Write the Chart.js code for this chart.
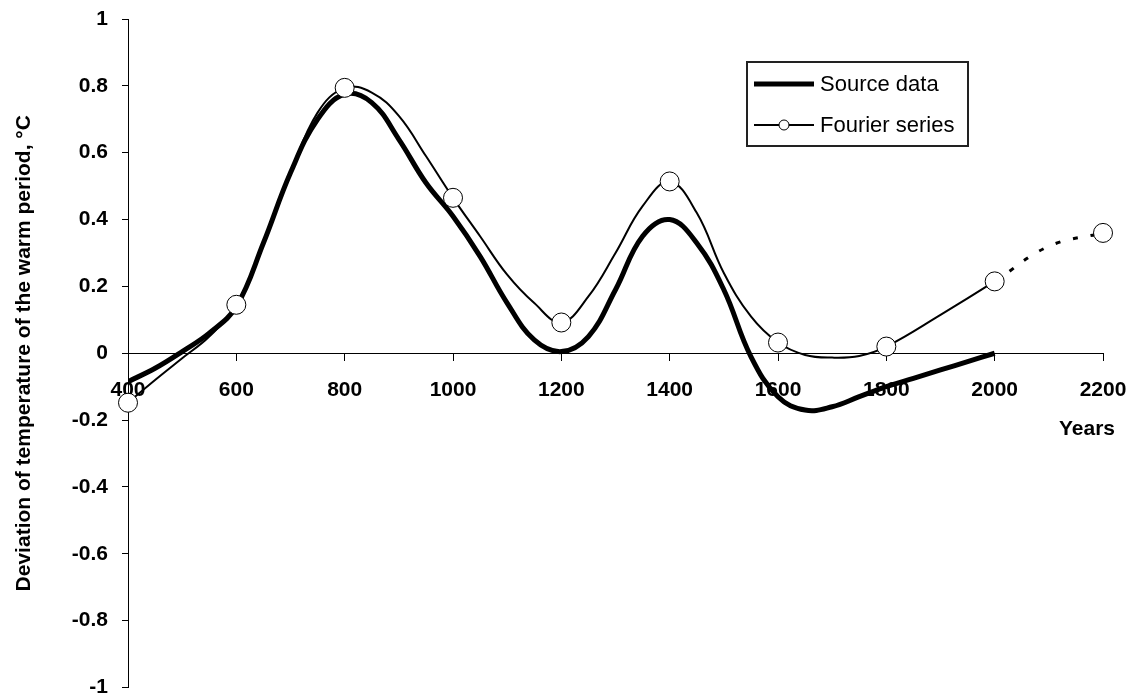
<!DOCTYPE html>
<html>
<head>
<meta charset="utf-8">
<script src="https://cdn.jsdelivr.net/npm/chart.js@4/dist/chart.umd.min.js"></script>
<style>
html, body { margin: 0; padding: 0; background: #fff; }
#wrap { width: 1140px; height: 698px; position: relative; }
</style>
</head>
<body>
<div id="wrap"><canvas id="tempChart"></canvas></div>
<script>
// Source data (thick line) - years and deviation, °C
const sourceYears = [400, 450, 500, 550, 600, 650, 700, 750, 800, 850, 900, 950, 1000, 1050, 1100, 1150, 1200, 1250, 1300, 1350, 1400, 1450, 1500, 1550, 1600, 1650, 1700, 1750, 1800, 1850, 1900, 1950, 2000];
const sourceValues = [-0.085, -0.045, 0.005, 0.06, 0.14, 0.33, 0.54, 0.70, 0.775, 0.75, 0.64, 0.51, 0.41, 0.29, 0.15, 0.04, 0.005, 0.05, 0.19, 0.35, 0.40, 0.33, 0.19, -0.01, -0.13, -0.17, -0.16, -0.13, -0.10, -0.075, -0.05, -0.025, 0.0];

// Fourier series (thin line, circles every 200 years)
const fourierYears = [400, 450, 500, 550, 600, 650, 700, 750, 800, 850, 900, 950, 1000, 1050, 1100, 1150, 1200, 1250, 1300, 1350, 1400, 1450, 1500, 1550, 1600, 1650, 1700, 1750, 1800, 1900, 2000, 2100, 2200];
const fourierValues = [-0.148, -0.08, -0.015, 0.05, 0.145, 0.33, 0.54, 0.72, 0.794, 0.78, 0.71, 0.59, 0.465, 0.35, 0.235, 0.15, 0.092, 0.17, 0.30, 0.44, 0.514, 0.42, 0.24, 0.11, 0.032, -0.005, -0.013, -0.008, 0.02, 0.115, 0.215, 0.32, 0.36];

const markerStep = 200;     // circles on the Fourier line
const forecastFrom = 2000;  // dashed part after this year

const seriesLabels = ['Source data', 'Fourier series'];
const yTitle = 'Deviation of temperature of the warm period, °C';
const xTitle = 'Years';

const FONT = '"Liberation Sans", Arial, sans-serif';
Chart.defaults.font.family = FONT;
Chart.defaults.color = '#000';

const toPoints = (xs, ys) => xs.map((x, i) => ({ x: x, y: ys[i] }));

// legend box + "Years" label
const extras = {
    id: 'extras',
    afterDraw(chart) {
        const c = chart.ctx;
        const xs = chart.scales.x, ys = chart.scales.y;
        c.save();
        c.fillStyle = '#000';
        c.font = 'bold 21px ' + FONT;
        c.textAlign = 'right';
        c.textBaseline = 'alphabetic';
        c.fillText(xTitle, xs.right + 12, ys.getPixelForValue(0) + 82);

        // legend
        const bx = 747, by = 62, bw = 221, bh = 84;
        c.lineWidth = 2;
        c.strokeStyle = '#222';
        c.strokeRect(bx, by, bw, bh);
        c.font = '22px ' + FONT;
        c.textAlign = 'left';
        c.textBaseline = 'middle';
        // source data
        c.strokeStyle = '#000';
        c.lineWidth = 5;
        c.beginPath(); c.moveTo(754, 84); c.lineTo(814, 84); c.stroke();
        c.fillText(seriesLabels[0], 820, 85);
        // fourier
        c.lineWidth = 2;
        c.beginPath(); c.moveTo(754, 125); c.lineTo(814, 125); c.stroke();
        c.beginPath(); c.arc(784, 125, 5, 0, Math.PI * 2);
        c.fillStyle = '#fff'; c.fill();
        c.lineWidth = 1; c.stroke();
        c.fillStyle = '#000';
        c.fillText(seriesLabels[1], 820, 126);
        c.restore();
    }
};

const ctx = document.getElementById('tempChart').getContext('2d');

new Chart(ctx, {
    type: 'line',
    data: {
        datasets: [
            {
                label: seriesLabels[0],
                data: toPoints(sourceYears, sourceValues),
                borderColor: '#000',
                borderWidth: 5,
                pointRadius: 0,
                tension: 0.4,
                order: 1
            },
            {
                label: seriesLabels[1],
                data: toPoints(fourierYears, fourierValues),
                borderColor: '#000',
                borderWidth: 2,
                backgroundColor: '#fff',
                pointBackgroundColor: '#fff',
                pointBorderColor: '#000',
                pointBorderWidth: 1,
                pointRadius: c => (fourierYears[c.dataIndex] % markerStep === 0 ? 9.5 : 0),
                tension: 0.4,
                clip: false,
                order: 0,
                segment: {
                    borderDash: c => (c.p0.parsed.x >= forecastFrom ? [5, 13] : undefined),
                    borderWidth: c => (c.p0.parsed.x >= forecastFrom ? 3 : undefined)
                }
            }
        ]
    },
    options: {
        responsive: true,
        maintainAspectRatio: false,
        animation: false,
        events: [],
        layout: { padding: { top: 19, bottom: 10, left: 0, right: 37 } },
        plugins: {
            legend: { display: false },
            tooltip: { enabled: false }
        },
        scales: {
            x: {
                type: 'linear',
                position: { y: 0 },
                min: 400,
                max: 2200,
                border: { display: true, color: '#000', width: 1 },
                grid: { drawOnChartArea: false, drawTicks: true, tickLength: 7, color: '#000' },
                ticks: {
                    stepSize: 200,
                    autoSkip: false,
                    maxRotation: 0,
                    padding: 17,
                    font: { size: 21, weight: 'bold' },
                    callback: v => String(v)
                },
                afterFit: s => { s.paddingLeft = 0; s.paddingRight = 0; }
            },
            y: {
                type: 'linear',
                position: 'left',
                min: -1,
                max: 1,
                border: { display: true, color: '#000', width: 1 },
                grid: { drawOnChartArea: false, drawTicks: true, tickLength: 6, color: '#000' },
                ticks: {
                    stepSize: 0.2,
                    padding: 14,
                    font: { size: 21, weight: 'bold' },
                    callback: v => String(Math.round(v * 10) / 10)
                },
                title: {
                    display: true,
                    text: yTitle,
                    padding: { top: 12, bottom: 0 },
                    font: { size: 21, weight: 'bold' }
                },
                afterFit: s => { s.width = 128; s.paddingTop = 0; s.paddingBottom = 0; }
            }
        }
    },
    plugins: [extras]
});
</script>
</body>
</html>
